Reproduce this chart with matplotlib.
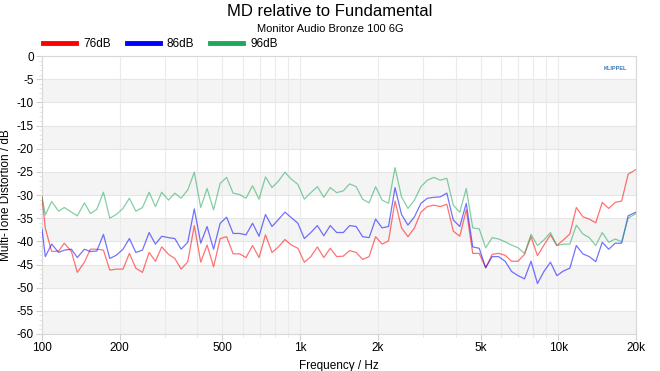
import matplotlib
matplotlib.use("Agg")
import matplotlib.pyplot as plt
from matplotlib.lines import Line2D
from matplotlib.ticker import FixedLocator, NullFormatter, MultipleLocator

plt.rcParams['font.family'] = ['Liberation Sans', 'DejaVu Sans']

freq = [100,
        103, 109, 116, 122, 130, 137, 146, 154, 163, 173, 183, 194,
        206, 218, 231, 245, 260, 275, 291, 309, 327, 346, 367, 389,
        412, 436, 462, 490, 519, 550, 583, 617, 654, 693, 734, 778,
        824, 873, 925, 980, 1038, 1100, 1166, 1235, 1308, 1386, 1469, 1556,
        1648, 1746, 1850, 1960, 2077, 2200, 2331, 2470, 2616, 2772, 2937, 3111,
        3296, 3492, 3700, 3920, 4153, 4400, 4662, 4939, 5233, 5544, 5873, 6223,
        6592, 6984, 7400, 7840, 8306, 8800, 9323, 9878, 10465, 11087, 11747, 12445,
        13185, 13969, 14800, 15680, 16612, 17600, 18647, 20000]

md_76 = [-30.4,
         -37.2, -42.2, -42.1, -40.4, -42.2, -46.7, -44.5, -41.7, -41.7, -41.9, -46.2, -46.0,
         -46.0, -42.6, -45.8, -46.7, -42.4, -44.3, -41.2, -42.8, -43.7, -46.0, -44.4, -36.6,
         -44.5, -40.8, -45.5, -39.4, -39.0, -42.7, -42.7, -43.5, -40.9, -43.5, -38.6, -42.4,
         -41.2, -39.6, -40.8, -41.5, -44.5, -43.3, -41.2, -43.5, -41.5, -43.3, -43.2, -42.0,
         -42.4, -43.9, -43.3, -39.0, -40.6, -39.9, -31.3, -37.1, -39.0, -37.1, -33.7, -32.5,
         -32.2, -32.5, -32.0, -37.8, -38.9, -33.2, -42.6, -42.6, -45.7, -42.8, -42.6, -43.0,
         -44.3, -44.3, -42.8, -39.0, -43.1, -40.8, -38.6, -40.9, -39.7, -38.4, -32.7, -34.7,
         -35.2, -36.0, -31.6, -32.9, -31.6, -31.3, -25.5, -24.5]

md_86 = [-37.4,
         -43.3, -40.6, -42.4, -41.9, -41.7, -43.5, -41.7, -42.2, -42.1, -38.5, -43.7, -43.0,
         -41.7, -39.4, -42.4, -41.9, -38.1, -40.6, -38.9, -39.2, -39.4, -41.7, -40.2, -33.0,
         -40.4, -36.8, -41.7, -36.1, -34.8, -38.3, -38.3, -38.6, -36.1, -38.9, -34.2, -36.8,
         -35.3, -33.7, -34.9, -36.1, -39.4, -38.1, -36.6, -38.8, -36.6, -38.1, -38.1, -36.6,
         -36.8, -39.0, -39.2, -35.2, -37.1, -36.8, -28.4, -34.2, -36.5, -34.7, -31.8, -30.7,
         -30.5, -30.4, -29.6, -35.4, -36.8, -31.8, -41.2, -41.5, -45.7, -43.3, -43.3, -44.3,
         -46.5, -47.4, -48.1, -44.3, -49.1, -46.5, -44.5, -47.4, -46.4, -45.8, -40.9, -42.7,
         -43.3, -44.4, -40.2, -41.7, -40.4, -40.4, -34.5, -33.7]

md_96 = [-30.4,
         -34.3, -31.4, -33.5, -32.7, -33.7, -34.5, -31.7, -34.0, -33.1, -29.4, -35.0, -34.2,
         -32.9, -30.7, -33.5, -32.7, -29.4, -32.5, -29.4, -31.1, -29.6, -30.7, -28.9, -25.1,
         -32.7, -28.6, -33.2, -27.5, -26.2, -29.6, -29.9, -30.7, -28.0, -30.9, -26.1, -28.4,
         -27.0, -25.1, -26.6, -27.7, -30.9, -29.5, -28.2, -30.5, -28.4, -29.5, -29.1, -27.6,
         -28.2, -30.9, -31.7, -28.2, -31.1, -31.8, -24.1, -30.4, -32.9, -31.1, -28.2, -26.8,
         -26.2, -26.8, -26.4, -32.2, -33.7, -28.6, -37.1, -37.3, -41.4, -39.2, -39.5, -40.1,
         -40.8, -41.4, -42.6, -38.5, -40.9, -39.7, -38.1, -40.9, -40.6, -40.6, -36.5, -38.4,
         -39.2, -40.9, -38.1, -40.2, -39.5, -40.1, -35.0, -34.0]

series = [("76dB", md_76, "#ff0000"), ("86dB", md_86, "#0000ff"), ("96dB", md_96, "#1fa85a")]

xtick_vals = [100, 200, 500, 1000, 2000, 5000, 10000, 20000]
xtick_labels = ["100", "200", "500", "1k", "2k", "5k", "10k", "20k"]
ytick_vals = list(range(0, -65, -5))

fig = plt.figure(figsize=(6.6, 3.71), dpi=100)
ax = fig.add_axes([42/660, 1-334/371, (636-42)/660, (334-56)/371])

ax.set_xscale('log')
ax.set_xlim(100, 20000)
ax.set_ylim(-60, 0)

# alternating bands
for y0 in range(-10, -65, -10):
    ax.axhspan(y0, y0 + 5, color='#f4f4f4', zorder=0, lw=0)

# grid
minor_x = [m * d for d in (100, 1000, 10000) for m in range(1, 10) if 100 <= m * d <= 20000]
for xv in minor_x:
    ax.axvline(xv, color='#ebebeb', lw=0.8, zorder=1)
for yv in ytick_vals:
    ax.axhline(yv, color='#e6e6e6', lw=0.8, zorder=1)

for name, vals, col in series:
    ax.plot(freq, vals, color=col, lw=0.9, alpha=0.55, zorder=3)

ax.xaxis.set_major_locator(FixedLocator(xtick_vals))
ax.set_xticklabels(xtick_labels)
ax.xaxis.set_minor_locator(FixedLocator(minor_x))
ax.xaxis.set_minor_formatter(NullFormatter())
ax.set_yticks(ytick_vals)
ax.set_yticklabels([str(v) for v in ytick_vals])
ax.yaxis.set_minor_locator(MultipleLocator(1))

ax.tick_params(axis='both', which='major', labelsize=8.5, length=4, color='#d0d0d0', pad=2)
ax.tick_params(axis='both', which='minor', length=2.5, color='#e0e0e0')
for s in ax.spines.values():
    s.set_color('#d8d8d8')
    s.set_linewidth(0.8)

ax.set_xlabel("Frequency / Hz", fontsize=8.5, labelpad=4)
ax.set_ylabel("Multi-Tone Distortion / dB", fontsize=8.5, labelpad=3)

fig.text(0.5, 1-11/371, "MD relative to Fundamental", ha='center', va='center', fontsize=12)
fig.text(0.5, 1-29/371, "Monitor Audio Bronze 100 6G", ha='center', va='center', fontsize=8)

handles = [Line2D([0], [0], color=c, lw=3.5) for _, _, c in series]
leg = fig.legend(handles, [n for n, _, _ in series], loc='center left',
                 bbox_to_anchor=(43/660, 1-44/371), ncol=3, frameon=False,
                 fontsize=8.5, handlelength=2.8, handletextpad=0.6, columnspacing=1.35,
                 borderaxespad=0, borderpad=0)

ax.text(0.985, 0.965, "KLIPPEL", transform=ax.transAxes, ha='right', va='top',
        fontsize=4, color='#3a78b0', fontweight='bold')

fig.savefig("out.png", dpi=100)
